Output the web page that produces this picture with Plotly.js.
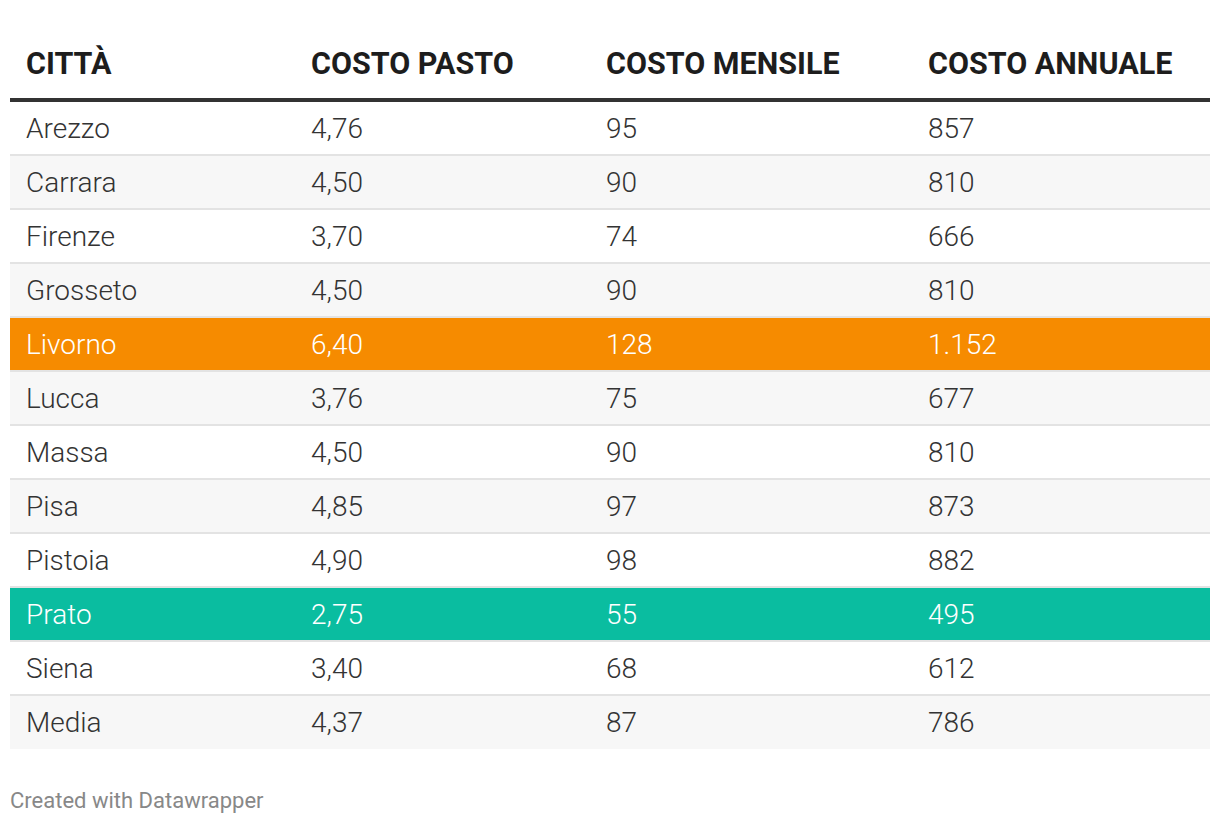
<!DOCTYPE html>
<html>
<head>
<meta charset="utf-8">
<script src="https://cdn.plot.ly/plotly-3.0.1.min.js"></script>
<style>
html,body{margin:0;padding:0;background:#fff;}
#chart{width:1220px;height:824px;}
</style>
</head>
<body>
<div id="chart"></div>
<script>
// ---- data ----
const headers = ["CITTÀ", "COSTO PASTO", "COSTO MENSILE", "COSTO ANNUALE"];
const cities = ["Arezzo","Carrara","Firenze","Grosseto","Livorno","Lucca","Massa","Pisa","Pistoia","Prato","Siena","Media"];
const costoPasto = [4.76,4.50,3.70,4.50,6.40,3.76,4.50,4.85,4.90,2.75,3.40,4.37];
const costoMensile = [95,90,74,90,128,75,90,97,98,55,68,87];
const costoAnnuale = [857,810,666,810,1152,677,810,873,882,495,612,786];
const highlighted = {"Livorno":"#F68B00","Prato":"#0ABDA0"};

// ---- formatting (Italian) ----
function fmtDec(v){ return v.toFixed(2).replace('.', ','); }
function fmtInt(v){ return String(Math.round(v)).replace(/\B(?=(\d{3})+(?!\d))/g, '.'); }

const W = 1220, H = 824;
const tLeft = 10, tRight = 1210;
const tTop = 27, headerH = 74, rowH = 54;
const nRows = cities.length;
const tBottom = tTop + headerH + rowH*nRows;
const headTextShift = 16, cellTextShift = 8;

const fills = cities.map((c,i)=> highlighted[c] || (i%2===0 ? '#ffffff' : '#f7f7f7'));
const textCols = cities.map(c=> highlighted[c] ? '#ffffff' : '#333333');

const spacer = cities.map(()=> '');
const values = [spacer, cities, costoPasto.map(fmtDec), costoMensile.map(fmtInt), costoAnnuale.map(fmtInt)];
const colW = [8, 285, 295, 322, 290];
const clear = 'rgba(0,0,0,0)';

// background trace: row fills
const fillTrace = {
  type: 'table',
  domain: {x: [tLeft/W, tRight/W], y: [1 - tBottom/H, 1 - tTop/H]},
  columnwidth: colW,
  header: {
    values: values.map(()=> ''),
    height: headerH,
    fill: {color: '#ffffff'},
    line: {color: '#ffffff', width: 0}
  },
  cells: {
    values: values.map(col=> col.map(()=> '')),
    height: rowH,
    fill: {color: values.map(()=> fills)},
    line: {color: values.map(()=> fills), width: 0}
  }
};

// text trace: labels and values
const textTop = tTop + headTextShift;
const textBottom = tBottom + cellTextShift;
const textTrace = {
  type: 'table',
  domain: {x: [tLeft/W, tRight/W], y: [Math.max(0, 1 - textBottom/H), 1 - textTop/H]},
  columnwidth: colW,
  header: {
    values: [''].concat(headers),
    align: 'left',
    height: headerH - headTextShift + cellTextShift,
    fill: {color: clear},
    line: {color: clear, width: 0},
    font: {family: 'Roboto', size: 30.5, color: '#1d1d1d', weight: 700}
  },
  cells: {
    values: values,
    align: 'left',
    height: rowH,
    fill: {color: clear},
    line: {color: clear, width: 0},
    font: {family: 'Roboto', size: 28, color: values.map(()=> textCols), weight: 300}
  }
};

const shapes = [];
shapes.push({type:'line', xref:'paper', yref:'paper', x0:tLeft/W, x1:tRight/W,
  y0:1-(tTop+headerH-1)/H, y1:1-(tTop+headerH-1)/H, line:{color:'#333333', width:4}});
for(let i=1;i<nRows;i++){
  const y = tTop + headerH + rowH*i;
  shapes.push({type:'line', xref:'paper', yref:'paper', x0:tLeft/W, x1:tRight/W,
    y0:1-y/H, y1:1-y/H, line:{color:'#e3e3e3', width:2}});
}

const layout = {
  width: W, height: H,
  margin: {l:0, r:0, t:0, b:0},
  paper_bgcolor: '#ffffff',
  shapes: shapes,
  annotations: [{
    text: 'Created with Datawrapper', xref:'paper', yref:'paper',
    x: (tLeft-2)/W, y: 1-800/H, xanchor:'left', yanchor:'middle', showarrow:false,
    font:{family:'Roboto', size:22, color:'#888888'}
  }]
};

Plotly.newPlot('chart', [fillTrace, textTrace], layout, {displayModeBar:false, staticPlot:true});
</script>
</body>
</html>
